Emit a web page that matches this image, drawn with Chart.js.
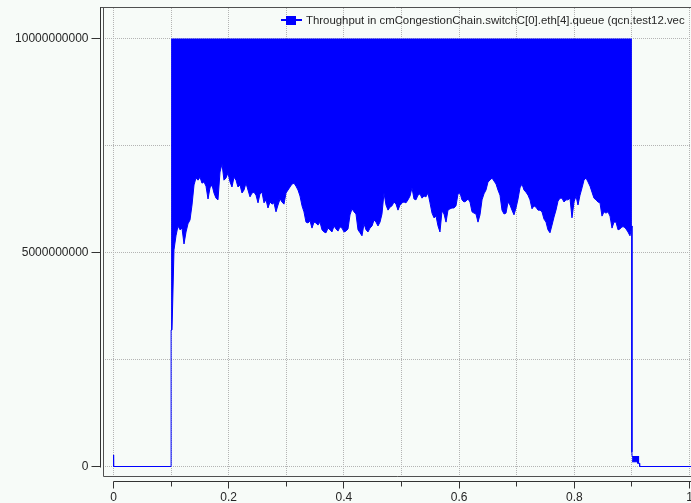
<!DOCTYPE html>
<html>
<head>
<meta charset="utf-8">
<script src="https://cdn.jsdelivr.net/npm/chart.js@4/dist/chart.umd.min.js"></script>
<style>
  html, body { margin: 0; padding: 0; background: #f7fbf8; }
  #chart { display: block; }
</style>
</head>
<body>
<canvas id="chart" width="691" height="503"></canvas>
<script>
// Throughput vector of switchC[0].eth[4].queue, values in bit/s (lows stored in Gbit/s units).
const seriesLabel = 'Throughput in cmCongestionChain.switchC[0].eth[4].queue (qcn.test12.vec';

const xGridTicks = [0, 0.1, 0.2, 0.3, 0.4, 0.5, 0.6, 0.7, 0.8, 0.9, 1];
const xLabelTicks = [0, 0.2, 0.4, 0.6, 0.8, 1];
const yGridTicks = [0, 2.5e9, 5e9, 7.5e9, 1e10];
const yLabelTicks = [0, 5e9, 1e10];

// During the burst the samples swing between the line rate and a noisy lower envelope.
const burstPeak = 1e10;
const burstTime = [
  0.1000, 0.1016, 0.1050, 0.1085, 0.1120, 0.1155, 0.1189, 0.1224, 0.1259, 0.1293,
  0.1328, 0.1363, 0.1398, 0.1432, 0.1467, 0.1502, 0.1536, 0.1571, 0.1606, 0.1641,
  0.1675, 0.1710, 0.1745, 0.1780, 0.1814, 0.1849, 0.1884, 0.1918, 0.1953, 0.1988,
  0.2023, 0.2057, 0.2092, 0.2127, 0.2161, 0.2196, 0.2231, 0.2266, 0.2300, 0.2335,
  0.2370, 0.2405, 0.2439, 0.2474, 0.2509, 0.2543, 0.2578, 0.2613, 0.2648, 0.2682,
  0.2717, 0.2752, 0.2786, 0.2821, 0.2856, 0.2891, 0.2925, 0.2960, 0.2995, 0.3030,
  0.3064, 0.3099, 0.3134, 0.3168, 0.3203, 0.3238, 0.3273, 0.3307, 0.3342, 0.3377,
  0.3411, 0.3446, 0.3481, 0.3516, 0.3550, 0.3585, 0.3620, 0.3655, 0.3689, 0.3724,
  0.3759, 0.3793, 0.3828, 0.3863, 0.3898, 0.3932, 0.3967, 0.4002, 0.4036, 0.4071,
  0.4106, 0.4141, 0.4175, 0.4210, 0.4245, 0.4280, 0.4314, 0.4349, 0.4384, 0.4418,
  0.4453, 0.4488, 0.4523, 0.4557, 0.4592, 0.4627, 0.4661, 0.4696, 0.4731, 0.4766,
  0.4800, 0.4835, 0.4870, 0.4905, 0.4939, 0.4974, 0.5009, 0.5043, 0.5078, 0.5113,
  0.5148, 0.5182, 0.5217, 0.5252, 0.5286, 0.5321, 0.5356, 0.5391, 0.5425, 0.5460,
  0.5495, 0.5530, 0.5564, 0.5599, 0.5634, 0.5668, 0.5703, 0.5738, 0.5773, 0.5807,
  0.5842, 0.5877, 0.5911, 0.5946, 0.5981, 0.6016, 0.6050, 0.6085, 0.6120, 0.6155,
  0.6189, 0.6224, 0.6259, 0.6293, 0.6328, 0.6363, 0.6398, 0.6432, 0.6467, 0.6502,
  0.6536, 0.6571, 0.6606, 0.6641, 0.6675, 0.6710, 0.6745, 0.6780, 0.6814, 0.6849,
  0.6884, 0.6918, 0.6953, 0.6988, 0.7023, 0.7057, 0.7092, 0.7127, 0.7161, 0.7196,
  0.7231, 0.7266, 0.7300, 0.7335, 0.7370, 0.7405, 0.7439, 0.7474, 0.7509, 0.7543,
  0.7578, 0.7613, 0.7648, 0.7682, 0.7717, 0.7752, 0.7786, 0.7821, 0.7856, 0.7891,
  0.7925, 0.7960, 0.7995, 0.8030, 0.8064, 0.8099, 0.8134, 0.8168, 0.8203, 0.8238,
  0.8273, 0.8307, 0.8342, 0.8377, 0.8411, 0.8446, 0.8481, 0.8516, 0.8550, 0.8585,
  0.8620, 0.8655, 0.8689, 0.8724, 0.8759, 0.8793, 0.8828, 0.8863, 0.8898, 0.8932,
  0.8967, 0.9000
];
const burstLowGbps = [
  3.19, 3.19, 5.06, 5.39, 5.62, 5.53, 5.57, 5.20, 5.48, 5.67,
  5.76, 6.11, 6.58, 6.74, 6.69, 6.76, 6.62, 6.65, 6.55, 6.25,
  6.51, 6.58, 6.39, 6.27, 6.23, 6.88, 7.07, 6.69, 6.74, 6.86,
  6.65, 6.53, 6.76, 6.69, 6.53, 6.58, 6.39, 6.46, 6.62, 6.46,
  6.30, 6.39, 6.41, 6.34, 6.16, 6.37, 6.41, 6.16, 6.23, 6.04,
  6.18, 6.13, 6.16, 5.95, 6.11, 6.25, 6.18, 6.13, 6.39, 6.46,
  6.53, 6.60, 6.62, 6.55, 6.46, 6.32, 6.09, 5.95, 5.71, 5.69,
  5.74, 5.57, 5.71, 5.69, 5.64, 5.71, 5.53, 5.48, 5.46, 5.57,
  5.53, 5.48, 5.62, 5.55, 5.50, 5.60, 5.57, 5.48, 5.50, 5.55,
  5.88, 6.02, 5.95, 5.90, 5.53, 5.46, 5.39, 5.67, 5.53, 5.48,
  5.57, 5.62, 5.76, 5.71, 5.62, 5.71, 5.90, 6.39, 6.11, 5.99,
  6.06, 6.09, 6.18, 6.13, 5.99, 6.11, 6.16, 6.18, 6.16, 6.23,
  6.32, 6.51, 6.25, 6.23, 6.34, 6.37, 6.27, 6.32, 6.30, 6.39,
  6.16, 5.92, 5.81, 5.85, 5.62, 5.48, 5.97, 5.90, 5.71, 5.99,
  6.02, 6.04, 6.04, 6.09, 6.37, 6.39, 6.23, 6.18, 6.20, 6.25,
  6.18, 5.95, 5.92, 5.90, 5.71, 5.88, 6.23, 6.37, 6.46, 6.65,
  6.69, 6.74, 6.67, 6.60, 6.46, 6.34, 5.99, 5.90, 5.92, 6.18,
  6.11, 5.99, 5.88, 6.04, 6.25, 6.51, 6.60, 6.46, 6.41, 6.34,
  6.23, 6.02, 6.09, 6.06, 5.99, 5.99, 5.95, 5.78, 5.71, 5.53,
  5.46, 5.64, 5.83, 5.99, 6.20, 6.27, 6.27, 6.18, 6.23, 6.23,
  6.27, 5.81, 6.18, 6.32, 6.11, 6.34, 6.51, 6.69, 6.74, 6.65,
  6.55, 6.41, 6.27, 6.23, 6.18, 6.16, 5.85, 5.95, 5.92, 5.95,
  5.85, 5.57, 5.71, 5.71, 5.53, 5.55, 5.60, 5.60, 5.55, 5.48,
  5.39, 5.62
];

// Idle start: a short initial sample, then zero until the burst begins.
const leadTime = [0, 0.0002, 0.1000, 0.1000];
const leadGbps = [0.27, 0, 0, 3.19];

// Drain after the burst: a small residual swing, then zero.
const tailTop = 0.245e9;
const tailTime = [0.9003, 0.9100, 0.9101, 0.9129];
const tailLowGbps = [0.11, 0.11, 0.075, 0.075];
const trailTime = [0.9000, 0.9000, 0.9003, 0.9129, 0.9135, 1.0026];
const trailGbps = [5.62, 0.34, 0.245, 0.075, 0, 0];

const BLUE = '#0000ff';
const GRID = '#b4b4b4';
const INK = '#262626';
const FONT = '12px "Liberation Sans", Arial, Helvetica, sans-serif';
const LEGEND_FONT = '11.4px "Liberation Sans", Arial, Helvetica, sans-serif';

const toPoints = (ts, vs) => ts.map((t, i) => ({ x: t, y: vs[i] * 1e9 }));

const frame = {
  id: 'frame',
  beforeDraw(chart) {
    const { ctx, width, height } = chart;
    ctx.save();
    ctx.fillStyle = '#f7fbf8';
    ctx.fillRect(0, 0, width, height);
    ctx.restore();
  },
  afterDraw(chart) {
    const { ctx, chartArea: a, scales: { x, y } } = chart;
    ctx.save();
    ctx.lineWidth = 1;

    // plot frame
    ctx.strokeStyle = '#505050';
    ctx.beginPath();
    ctx.moveTo(a.left - 3, a.top - 0.5);
    ctx.lineTo(a.right, a.top - 0.5);
    ctx.moveTo(a.left + 0.5, a.top - 0.5);
    ctx.lineTo(a.left + 0.5, a.bottom + 0.5);
    ctx.lineTo(a.right, a.bottom + 0.5);
    ctx.stroke();

    // y axis
    const yAxisX = a.left - 2.5;
    const y0 = Math.round(y.getPixelForValue(0)) + 0.5;
    ctx.strokeStyle = '#333333';
    ctx.beginPath();
    ctx.moveTo(yAxisX, a.top - 0.5);
    ctx.lineTo(yAxisX, y0);
    yLabelTicks.forEach(v => {
      const py = Math.round(y.getPixelForValue(v) - 0.5) + 0.5;
      ctx.moveTo(yAxisX - 9, py);
      ctx.lineTo(yAxisX, py);
    });
    ctx.stroke();
    ctx.fillStyle = INK;
    ctx.font = FONT;
    ctx.textAlign = 'right';
    ctx.textBaseline = 'middle';
    yLabelTicks.forEach(v => {
      ctx.fillText(String(v), yAxisX - 12, y.getPixelForValue(v) + 0.5);
    });

    // x axis, offset below the plot
    const xAxisY = a.bottom + 5.5;
    const x0 = Math.round(x.getPixelForValue(0) - 0.5) + 0.5;
    ctx.strokeStyle = '#333333';
    ctx.beginPath();
    ctx.moveTo(x0, xAxisY);
    ctx.lineTo(a.right, xAxisY);
    xGridTicks.forEach(v => {
      const px = Math.round(x.getPixelForValue(v) - 0.5) + 0.5;
      const major = xLabelTicks.includes(v);
      ctx.moveTo(px, xAxisY);
      ctx.lineTo(px, xAxisY + (major ? 7 : 5));
    });
    ctx.stroke();
    ctx.textAlign = 'center';
    xLabelTicks.forEach(v => {
      ctx.fillText(String(v), x.getPixelForValue(v), a.bottom + 22);
    });

    // legend entry
    const lx = 281, ly = 20;
    ctx.strokeStyle = BLUE;
    ctx.lineWidth = 2;
    ctx.beginPath();
    ctx.moveTo(lx, ly);
    ctx.lineTo(lx + 21, ly);
    ctx.stroke();
    ctx.fillStyle = BLUE;
    ctx.fillRect(lx + 5, ly - 4, 10, 9);
    ctx.fillStyle = INK;
    ctx.font = LEGEND_FONT;
    ctx.textAlign = 'left';
    ctx.fillText(seriesLabel, lx + 25, ly + 1);
    ctx.restore();
  }
};

const lineStyle = { borderColor: BLUE, backgroundColor: BLUE, borderWidth: 1, pointRadius: 0, tension: 0 };

new Chart(document.getElementById('chart'), {
  type: 'line',
  data: {
    datasets: [
      { label: seriesLabel, data: toPoints(burstTime, burstLowGbps), fill: { value: burstPeak }, ...lineStyle },
      { label: 'lead', data: toPoints(leadTime, leadGbps), fill: false, ...lineStyle },
      { label: 'tail', data: toPoints(tailTime, tailLowGbps), fill: { value: tailTop }, ...lineStyle },
      { label: 'trail', data: toPoints(trailTime, trailGbps), fill: false, ...lineStyle }
    ]
  },
  options: {
    responsive: false,
    animation: false,
    devicePixelRatio: 1,
    layout: { padding: { left: 103, top: 8, right: 0, bottom: 27 } },
    plugins: { legend: { display: false }, tooltip: { enabled: false } },
    scales: {
      x: {
        type: 'linear',
        min: -0.018229,
        max: 1.002604,
        afterBuildTicks: s => { s.ticks = xGridTicks.map(v => ({ value: v })); },
        grid: { color: GRID, lineWidth: 1, drawTicks: false },
        border: { display: false, dash: [1, 1] },
        ticks: { display: false }
      },
      y: {
        type: 'linear',
        min: -2.2196e8,
        max: 1.07126e10,
        afterBuildTicks: s => { s.ticks = yGridTicks.map(v => ({ value: v })); },
        grid: { color: GRID, lineWidth: 1, drawTicks: false },
        border: { display: false, dash: [1, 1] },
        ticks: { display: false }
      }
    }
  },
  plugins: [frame]
});
</script>
</body>
</html>
